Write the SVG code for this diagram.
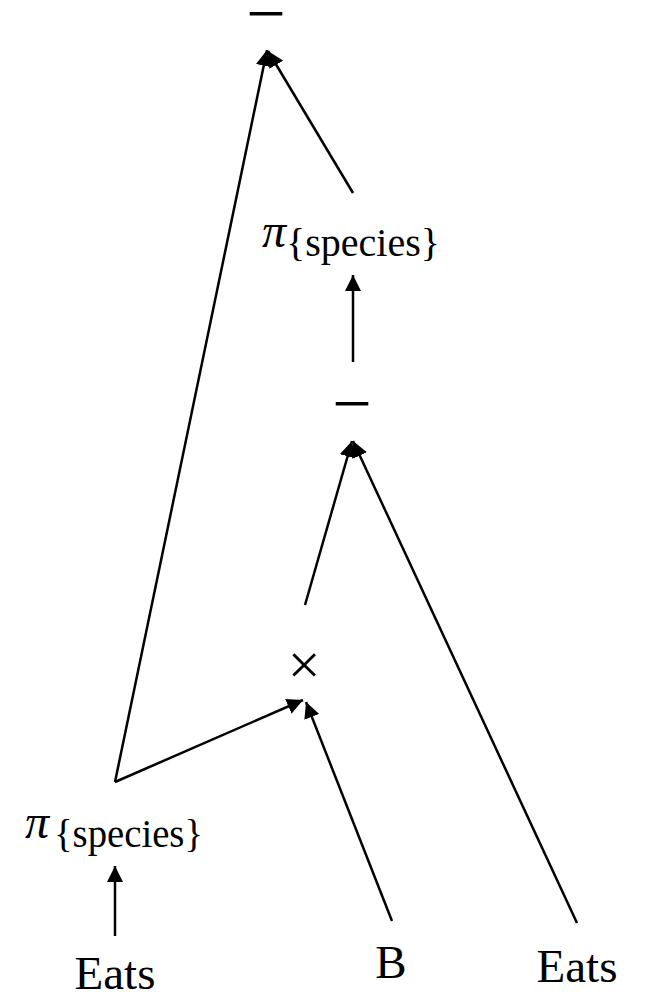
<svg xmlns="http://www.w3.org/2000/svg" width="646" height="999" viewBox="0 0 646 999">
<style>
text{font-family:"Liberation Serif","DejaVu Serif",serif;fill:#000}
.big{font-size:47px}
.pi{font-size:48px;font-style:italic}
.sub{font-size:40px}
.op{font-size:70px}
.x{font-size:58px}
.edge{stroke:#000;stroke-width:2.5;fill:none;marker-end:url(#ah)}
</style>
<defs>
<marker id="ah" markerUnits="userSpaceOnUse" markerWidth="16" markerHeight="16" refX="16" refY="8" orient="auto" viewBox="0 0 16 16">
<path d="M0,0 L16,8 L0,16 z" fill="#000"/>
</marker>
</defs>
<g id="connectors">
<line class="edge" x1="115" y1="782" x2="267" y2="50"/>
<line class="edge" x1="353" y1="193" x2="268" y2="51"/>
<line class="edge" x1="353" y1="362" x2="353" y2="275"/>
<line class="edge" x1="305" y1="605" x2="352" y2="441"/>
<line class="edge" x1="577" y1="923" x2="353" y2="441"/>
<line class="edge" x1="115" y1="782" x2="303" y2="700"/>
<line class="edge" x1="392" y1="921" x2="306" y2="702"/>
<line class="edge" x1="115" y1="936" x2="115" y2="866"/>
</g>
<g id="minus-top"><text class="op" x="266" y="37" text-anchor="middle">−</text></g>
<g id="proj-top"><text x="262" y="247" class="pi">π</text><text x="286" y="256" class="sub" textLength="154" lengthAdjust="spacingAndGlyphs">{species}</text></g>
<g id="minus-mid"><text class="op" x="352" y="427" text-anchor="middle">−</text></g>
<g id="times"><text class="x" x="304" y="684" text-anchor="middle">×</text></g>
<g id="proj-left"><text x="25" y="838" class="pi">π</text><text x="54" y="847" class="sub" textLength="149" lengthAdjust="spacingAndGlyphs">{species}</text></g>
<g id="eats-left"><text class="big" x="115" y="989" text-anchor="middle">Eats</text></g>
<g id="b"><text class="big" x="391" y="978" text-anchor="middle">B</text></g>
<g id="eats-right"><text class="big" x="577" y="982" text-anchor="middle">Eats</text></g>
</svg>
